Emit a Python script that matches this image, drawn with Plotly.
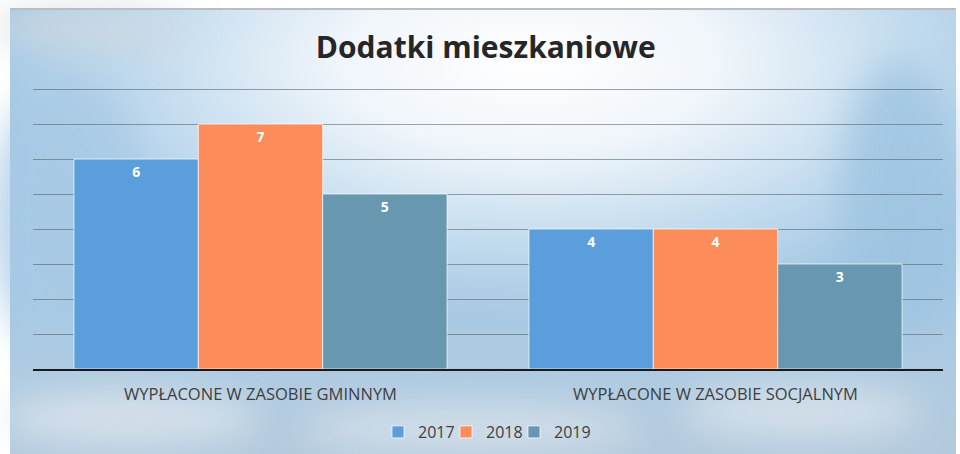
import base64
import plotly.graph_objects as go

# Housing allowance counts by category and year
categories = ["WYPŁACONE W ZASOBIE GMINNYM", "WYPŁACONE W ZASOBIE SOCJALNYM"]
years = ["2017", "2018", "2019"]
values_2017 = [6, 4]
values_2018 = [7, 4]
values_2019 = [5, 3]
series_values = [values_2017, values_2018, values_2019]
series_colors = ["#5a9edb", "#fd8c5b", "#6897b0"]

W, H = 960, 454
ML, MR, MT, MB = 33, 17, 88, 85
PW, PH = W - ML - MR, H - MT - MB

# Sky-like backdrop as an inline SVG
svg = f"""<svg xmlns='http://www.w3.org/2000/svg' width='{W}' height='{H}' viewBox='0 0 {W} {H}'>
<defs>
<radialGradient id='sky' cx='0.55' cy='0.12' r='0.58'>
<stop offset='0' stop-color='#ffffff'/>
<stop offset='0.35' stop-color='#eff5fa'/>
<stop offset='0.7' stop-color='#c2dbee'/>
<stop offset='1' stop-color='#a3c7e3'/>
</radialGradient>
<linearGradient id='low' x1='0' y1='0' x2='0' y2='1'>
<stop offset='0' stop-color='#c0d2e0' stop-opacity='0'/>
<stop offset='1' stop-color='#b4cadd' stop-opacity='0.95'/>
</linearGradient>
<filter id='blur'><feGaussianBlur stdDeviation='18'/></filter>
</defs>
<rect width='{W}' height='{H}' fill='#ffffff'/>
<rect x='10' y='9' width='{W - 14}' height='{H - 9}' fill='url(#sky)'/>
<rect x='10' y='280' width='{W - 14}' height='{H - 280}' fill='url(#low)'/>
<g filter='url(#blur)' opacity='0.8'>
<ellipse cx='130' cy='418' rx='130' ry='26' fill='#dfe7ee'/>
<ellipse cx='470' cy='428' rx='170' ry='24' fill='#d9e3eb'/>
<ellipse cx='800' cy='412' rx='120' ry='26' fill='#dce5ec'/>
<ellipse cx='70' cy='220' rx='80' ry='140' fill='#a8cae5'/>
<ellipse cx='900' cy='200' rx='60' ry='140' fill='#9ec4e1'/>
<ellipse cx='90' cy='28' rx='100' ry='20' fill='#d2d9df'/>
</g>
<line x1='10' y1='9' x2='{W - 4}' y2='9' stroke='#b8bec4' stroke-width='2'/>
</svg>"""
bg_uri = "data:image/svg+xml;base64," + base64.b64encode(svg.encode("utf-8")).decode("ascii")

# One compact legend per series, placed side by side under the axis
legend_ids = ["legend", "legend2", "legend3"]
legend_left_px = [378, 446, 514]
legend_y = -(432 - (H - MB)) / PH

fig = go.Figure()
for year, vals, color, lid in zip(years, series_values, series_colors, legend_ids):
    fig.add_trace(go.Bar(
        name=year,
        x=categories,
        y=vals,
        legend=lid,
        marker=dict(color=color, line=dict(color="rgba(255,255,255,0.7)", width=1)),
        text=[str(v) for v in vals],
        textposition="inside",
        insidetextanchor="end",
        textfont=dict(family="Open Sans", size=14, color="#ffffff", weight="bold"),
        cliponaxis=False,
    ))

legend_style = dict(
    orientation="h",
    xanchor="left",
    y=legend_y, yanchor="middle",
    font=dict(family="Open Sans", size=16, color="#404040"),
    bgcolor="rgba(0,0,0,0)",
    itemwidth=30,
)

fig.update_layout(
    width=W,
    height=H,
    margin=dict(l=ML, r=MR, t=MT, b=MB, autoexpand=False),
    paper_bgcolor="rgba(0,0,0,0)",
    plot_bgcolor="rgba(0,0,0,0)",
    barmode="group",
    bargap=0.18,
    bargroupgap=0.0,
    title=dict(
        text="<b>Dodatki mieszkaniowe</b>",
        x=0.506, xref="container", xanchor="center",
        y=1 - 47 / H, yref="container", yanchor="middle",
        font=dict(family="Open Sans", size=30, color="#262626"),
    ),
    legend=dict(x=(legend_left_px[0] - ML) / PW, **legend_style),
    legend2=dict(x=(legend_left_px[1] - ML) / PW, **legend_style),
    legend3=dict(x=(legend_left_px[2] - ML) / PW, **legend_style),
    xaxis=dict(
        showgrid=False,
        showline=True,
        linecolor="#1a1a1a",
        linewidth=2,
        ticks="",
        automargin=False,
        tickfont=dict(family="Open Sans", size=16.5, color="#404040"),
        ticklabelstandoff=9,
    ),
    yaxis=dict(
        range=[0, 8.03],
        dtick=1,
        showgrid=True,
        gridcolor="rgba(80,90,100,0.55)",
        gridwidth=1,
        showticklabels=False,
        zeroline=False,
        ticks="",
        automargin=False,
    ),
    images=[dict(
        source=bg_uri,
        xref="paper", yref="paper",
        x=-ML / PW, y=1 + MT / PH,
        sizex=W / PW, sizey=H / PH,
        xanchor="left", yanchor="top",
        sizing="stretch",
        layer="below",
    )],
    showlegend=True,
)

fig.write_html("out.html")
